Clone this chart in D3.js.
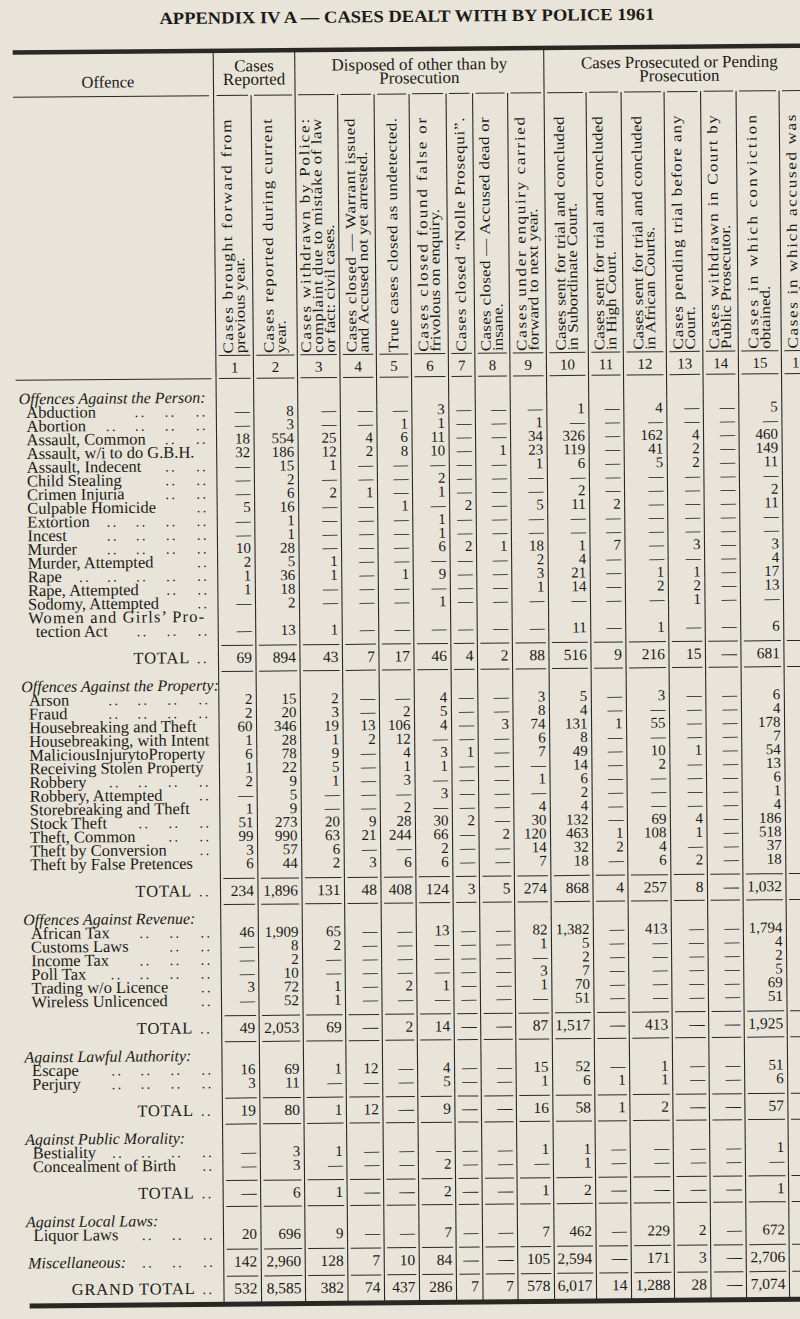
<!DOCTYPE html>
<html>
<head>
<meta charset="utf-8">
<script src="https://cdn.jsdelivr.net/npm/d3@7"></script>
<style>
  body { margin: 0; background: #e8e4d9; }
  svg { display: block; }
  text { font-family: "Liberation Serif", "Times New Roman", serif; fill: #1d1b18; }
</style>
</head>
<body>
<div id="chart"></div>
<script>
const _ = null; // printed as a dash

// HEADINGS ///////////////////////////////////////
const title = "APPENDIX IV A — CASES DEALT WITH BY POLICE 1961";
const columnNumbers = ["1", "2", "3", "4", "5", "6", "7", "8", "9", "10", "11", "12", "13", "14", "15", "16"];
const columnHeads = [
  ["Cases brought forward from", "previous year."],
  ["Cases reported during current", "year."],
  ["Cases withdrawn by Police:", "complaint due to mistake of law", "or fact: civil cases."],
  ["Cases closed — Warrant issued", "and Accused not yet arrested."],
  ["True cases closed as undetected."],
  ["Cases closed found false or", "frivolous on enquiry."],
  ["Cases closed “Nolle Prosequi”."],
  ["Cases closed — Accused dead or", "insane."],
  ["Cases under enquiry carried", "forward to next year."],
  ["Cases sent for trial and concluded", "in Subordinate Court."],
  ["Cases sent for trial and concluded", "in High Court."],
  ["Cases sent for trial and concluded", "in African Courts."],
  ["Cases pending trial before any", "Court."],
  ["Cases withdrawn in Court by", "Public Prosecutor."],
  ["Cases in which conviction", "obtained."],
  ["Cases in which accused was", "acquitted."]
];
const groupHeads = [["Cases", "Reported"], ["Disposed of other than by", "Prosecution"], ["Cases Prosecuted or Pending", "Prosecution"]];
const groupSpans = [[0, 1], [2, 8], [9, 15]];

// OFFENCES AGAINST THE PERSON ////////////////////
const personNames = ["Abduction", "Abortion", "Assault, Common", "Assault, w/i to do G.B.H.", "Assault, Indecent",
  "Child Stealing", "Crimen Injuria", "Culpable Homicide", "Extortion", "Incest", "Murder", "Murder, Attempted",
  "Rape", "Rape, Attempted", "Sodomy, Attempted", "Women and Girls’ Pro-|tection Act"];
const personCounts = [
  [_, 8, _, _, _, 3, _, _, _, 1, _, 4, _, _, 5],
  [_, 3, _, _, 1, 1, _, _, 1, _, _, _, _, _, _],
  [18, 554, 25, 4, 6, 11, _, _, 34, 326, _, 162, 4, _, 460],
  [32, 186, 12, 2, 8, 10, _, 1, 23, 119, _, 41, 2, _, 149],
  [_, 15, 1, _, _, _, _, _, 1, 6, _, 5, 2, _, 11],
  [_, 2, _, _, _, 2, _, _, _, _, _, _, _, _, _],
  [_, 6, 2, 1, _, 1, _, _, _, 2, _, _, _, _, 2],
  [5, 16, _, _, 1, _, 2, _, 5, 11, 2, _, _, _, 11],
  [_, 1, _, _, _, 1, _, _, _, _, _, _, _, _, _],
  [_, 1, _, _, _, 1, _, _, _, _, _, _, _, _, _],
  [10, 28, _, _, _, 6, 2, 1, 18, 1, 7, _, 3, _, 3],
  [2, 5, 1, _, _, _, _, _, 2, 4, _, _, _, _, 4],
  [1, 36, 1, _, 1, 9, _, _, 3, 21, _, 1, 1, _, 17],
  [1, 18, _, _, _, _, _, _, 1, 14, _, 2, 2, _, 13],
  [_, 2, _, _, _, 1, _, _, _, _, _, _, 1, _, _],
  [_, 13, 1, _, _, _, _, _, _, 11, _, 1, _, _, 6]
];
const personTotal = [69, 894, 43, 7, 17, 46, 4, 2, 88, 516, 9, 216, 15, _, 681];

// OFFENCES AGAINST THE PROPERTY //////////////////
const propertyNames = ["Arson", "Fraud", "Housebreaking and Theft", "Housebreaking, with Intent",
  "MaliciousInjurytoProperty", "Receiving Stolen Property", "Robbery", "Robbery, Attempted",
  "Storebreaking and Theft", "Stock Theft", "Theft, Common", "Theft by Conversion", "Theft by False Pretences"];
const propertyCounts = [
  [2, 15, 2, _, _, 4, _, _, 3, 5, _, 3, _, _, 6],
  [2, 20, 3, _, 2, 5, _, _, 8, 4, _, _, _, _, 4],
  [60, 346, 19, 13, 106, 4, _, 3, 74, 131, 1, 55, _, _, 178],
  [1, 28, 1, 2, 12, _, _, _, 6, 8, _, _, _, _, 7],
  [6, 78, 9, _, 4, 3, 1, _, 7, 49, _, 10, 1, _, 54],
  [1, 22, 5, _, 1, 1, _, _, _, 14, _, 2, _, _, 13],
  [2, 9, 1, _, 3, _, _, _, 1, 6, _, _, _, _, 6],
  [_, 5, _, _, _, 3, _, _, _, 2, _, _, _, _, 1],
  [1, 9, _, _, 2, _, _, _, 4, 4, _, _, _, _, 4],
  [51, 273, 20, 9, 28, 30, 2, _, 30, 132, _, 69, 4, _, 186],
  [99, 990, 63, 21, 244, 66, _, 2, 120, 463, 1, 108, 1, _, 518],
  [3, 57, 6, _, _, 2, _, _, 14, 32, 2, 4, _, _, 37],
  [6, 44, 2, 3, 6, 6, _, _, 7, 18, _, 6, 2, _, 18]
];
const propertyTotal = [234, 1896, 131, 48, 408, 124, 3, 5, 274, 868, 4, 257, 8, _, 1032];

// OFFENCES AGAINST REVENUE ///////////////////////
const revenueNames = ["African Tax", "Customs Laws", "Income Tax", "Poll Tax", "Trading w/o Licence", "Wireless Unlicenced"];
const revenueCounts = [
  [46, 1909, 65, _, _, 13, _, _, 82, 1382, _, 413, _, _, 1794],
  [_, 8, 2, _, _, _, _, _, 1, 5, _, _, _, _, 4],
  [_, 2, _, _, _, _, _, _, _, 2, _, _, _, _, 2],
  [_, 10, _, _, _, _, _, _, 3, 7, _, _, _, _, 5],
  [3, 72, 1, _, 2, 1, _, _, 1, 70, _, _, _, _, 69],
  [_, 52, 1, _, _, _, _, _, _, 51, _, _, _, _, 51]
];
const revenueTotal = [49, 2053, 69, _, 2, 14, _, _, 87, 1517, _, 413, _, _, 1925];

// AGAINST LAWFUL AUTHORITY / PUBLIC MORALITY / LOCAL LAWS
const authorityNames = ["Escape", "Perjury"];
const authorityCounts = [
  [16, 69, 1, 12, _, 4, _, _, 15, 52, _, 1, _, _, 51],
  [3, 11, _, _, _, 5, _, _, 1, 6, 1, 1, _, _, 6]
];
const authorityTotal = [19, 80, 1, 12, _, 9, _, _, 16, 58, 1, 2, _, _, 57];

const moralityNames = ["Bestiality", "Concealment of Birth"];
const moralityCounts = [
  [_, 3, 1, _, _, _, _, _, 1, 1, _, _, _, _, 1],
  [_, 3, _, _, _, 2, _, _, _, 1, _, _, _, _, _]
];
const moralityTotal = [_, 6, 1, _, _, 2, _, _, 1, 2, _, _, _, _, 1];

const localNames = ["Liquor Laws"];
const localCounts = [[20, 696, 9, _, _, 7, _, _, 7, 462, _, 229, 2, _, 672]];

const miscCounts = [142, 2960, 128, 7, 10, 84, _, _, 105, 2594, _, 171, 3, _, 2706];
const grandTotal = [532, 8585, 382, 74, 437, 286, 7, 7, 578, 6017, 14, 1288, 28, _, 7074];

const sections = [
  { head: "Offences Against the Person:", names: personNames, counts: personCounts, total: personTotal },
  { head: "Offences Against the Property:", names: propertyNames, counts: propertyCounts, total: propertyTotal },
  { head: "Offences Against Revenue:", names: revenueNames, counts: revenueCounts, total: revenueTotal },
  { head: "Against Lawful Authority:", names: authorityNames, counts: authorityCounts, total: authorityTotal },
  { head: "Against Public Morality:", names: moralityNames, counts: moralityCounts, total: moralityTotal },
  { head: "Against Local Laws:", names: localNames, counts: localCounts, total: null }
];

// LAYOUT /////////////////////////////////////////
const W = 800, H = 1319;
const rule = "#2a2825";
const edges = [218.5, 256, 300, 342.5, 379, 414, 451, 477.5, 512.5, 549, 591, 626, 669, 705.5, 741, 784, 820];
const colL = d3.scaleOrdinal().domain(d3.range(16)).range(edges.slice(0, 16));
const colR = d3.scaleOrdinal().domain(d3.range(16)).range(edges.slice(1));
const fmt = v => v == null ? "—" : d3.format(",")(v);
const dotSlots = [80, 108, 137, 167, 198];
const headStretch = 1.18; // the printed face is wider than Times

const pitch = 13.7;
const rows = [];
const rules = [];
let y = 396;
sections.forEach(function (s) {
  rows.push({ kind: "head", label: s.head, y: y });
  s.names.forEach(function (name, i) {
    const parts = name.split("|");
    parts.forEach(function (part, j) {
      y += pitch;
      const last = j === parts.length - 1;
      rows.push({ kind: "item", label: part, wrap: !last, indent: j > 0, values: last ? s.counts[i] : null, y: y });
    });
  });
  y += 15; rules.push(y);
  if (s.total) {
    y += 12.5; rows.push({ kind: "total", label: "TOTAL", values: s.total, y: y });
    y += 13.5; rules.push(y);
    y += 14;
  }
});
y += 12.5; rows.push({ kind: "misc", label: "Miscellaneous:", values: miscCounts, y: y });
y += 14.5; rules.push(y);
y += 12.5; rows.push({ kind: "total", label: "GRAND TOTAL", values: grandTotal, y: y });
y += 14;
const bottomY = y;

const rowY = d3.scaleOrdinal().domain(d3.range(rows.length)).range(rows.map(r => r.y));

const svg = d3.select("#chart").append("svg")
  .attr("width", W)
  .attr("height", H);
svg.append("rect").attr("width", W).attr("height", H).attr("fill", "#e8e4d9");

const g = svg.append("g").attr("transform", "rotate(-0.5, 400, 660)");

// TITLE
g.append("text")
  .attr("x", 165).attr("y", 22)
  .attr("font-size", 17).attr("font-weight", "bold")
  .attr("textLength", 495).attr("lengthAdjust", "spacingAndGlyphs")
  .text(title);

// thick rules top and bottom
g.append("rect").attr("x", 18).attr("y", 47).attr("width", 800).attr("height", 4.5).attr("fill", rule);
g.append("rect").attr("x", 24).attr("y", bottomY - 1).attr("width", 800).attr("height", 5).attr("fill", rule);

// vertical lines
const groupEdges = new Set([0, 2, 9]);
d3.range(16).forEach(function (c) {
  g.append("line")
    .attr("x1", colL(c)).attr("x2", colL(c))
    .attr("y1", groupEdges.has(c) ? 51 : 94).attr("y2", bottomY)
    .attr("stroke", rule).attr("stroke-width", 1.1);
});
g.append("line").attr("x1", colR(15)).attr("x2", colR(15)).attr("y1", 94).attr("y2", bottomY)
  .attr("stroke", rule).attr("stroke-width", 1.1);

// short horizontal rules inside each column
function columnRule(yy) {
  d3.range(16).forEach(function (c) {
    g.append("line")
      .attr("x1", colL(c) + 3).attr("x2", colR(c) - 3)
      .attr("y1", yy).attr("y2", yy)
      .attr("stroke", rule).attr("stroke-width", 1);
  });
}
[94, 354, 377].concat(rules).forEach(columnRule);
g.append("line").attr("x1", 18).attr("x2", 214).attr("y1", 94).attr("y2", 94).attr("stroke", rule);
g.append("line").attr("x1", 18).attr("x2", 214).attr("y1", 377).attr("y2", 377).attr("stroke", rule);

// GROUP HEADERS
g.append("text").attr("x", 113).attr("y", 85).attr("font-size", 16.5).attr("text-anchor", "middle").text("Offence");
groupHeads.forEach(function (lines, k) {
  const cx = (colL(groupSpans[k][0]) + colR(groupSpans[k][1])) / 2;
  lines.forEach(function (line, i) {
    g.append("text")
      .attr("x", cx).attr("y", 70 + i * 13.5)
      .attr("font-size", 17).attr("text-anchor", "middle")
      .text(line);
  });
});

// ROTATED COLUMN HEADERS
columnHeads.forEach(function (lines, c) {
  const cx = (colL(c) + colR(c)) / 2;
  const n = lines.length;
  lines.forEach(function (line, i) {
    const gx = cx + (i - (n - 1) / 2) * 12 + 4.5;
    const t = g.append("text")
      .attr("transform", "translate(" + gx + ",352) rotate(-90) scale(" + headStretch + ",1)")
      .attr("font-size", 14.5)
      .text(line);
    if (i < n - 1 || n === 1) t.attr("textLength", 234 / headStretch).attr("lengthAdjust", "spacing");
  });
});

// column numbers
g.selectAll(".colnum")
  .data(columnNumbers)
  .enter()
  .append("text")
  .attr("class", "colnum")
  .attr("x", (d, i) => (colL(i) + colR(i)) / 2)
  .attr("y", 371)
  .attr("font-size", 15)
  .attr("text-anchor", "middle")
  .text(d => d);

// ROW LABELS
function dots(x, yy) {
  g.append("text").attr("x", x).attr("y", yy).attr("font-size", 14)
    .attr("letter-spacing", 2.5).text("..");
}
rows.forEach(function (r, i) {
  const yy = rowY(i) + 5;
  let label;
  if (r.kind === "head" || r.kind === "misc") {
    label = g.append("text").attr("x", r.kind === "misc" ? 23 : 21).attr("y", yy)
      .attr("font-size", 16).attr("font-style", "italic").text(r.label);
  } else if (r.kind === "item") {
    label = g.append("text").attr("x", r.indent ? 36 : 28.5).attr("y", yy)
      .attr("font-size", 16.5).text(r.label);
    if (r.wrap) label.attr("textLength", 176).attr("lengthAdjust", "spacing");
  } else {
    label = g.append("text").attr("x", 190).attr("y", yy)
      .attr("font-size", 16.5).attr("letter-spacing", 0.8).attr("text-anchor", "end").text(r.label);
    dots(197, yy);
    return;
  }
  if (r.kind === "head" || r.wrap) return;
  const box = label.node().getBBox();
  const end = box.x + box.width;
  dotSlots.forEach(function (dx) {
    if (dx > end + 15) dots(dx, yy);
  });
});

// CELLS
rows.forEach(function (r, i) {
  if (!r.values) return;
  g.selectAll(null)
    .data(r.values)
    .enter()
    .append("text")
    .attr("x", (d, c) => colR(c) - 4)
    .attr("y", rowY(i) + 5)
    .attr("font-size", r.kind === "item" ? 15 : 15.5)
    .attr("text-anchor", "end")
    .text(d => fmt(d));
});
</script>
</body>
</html>
